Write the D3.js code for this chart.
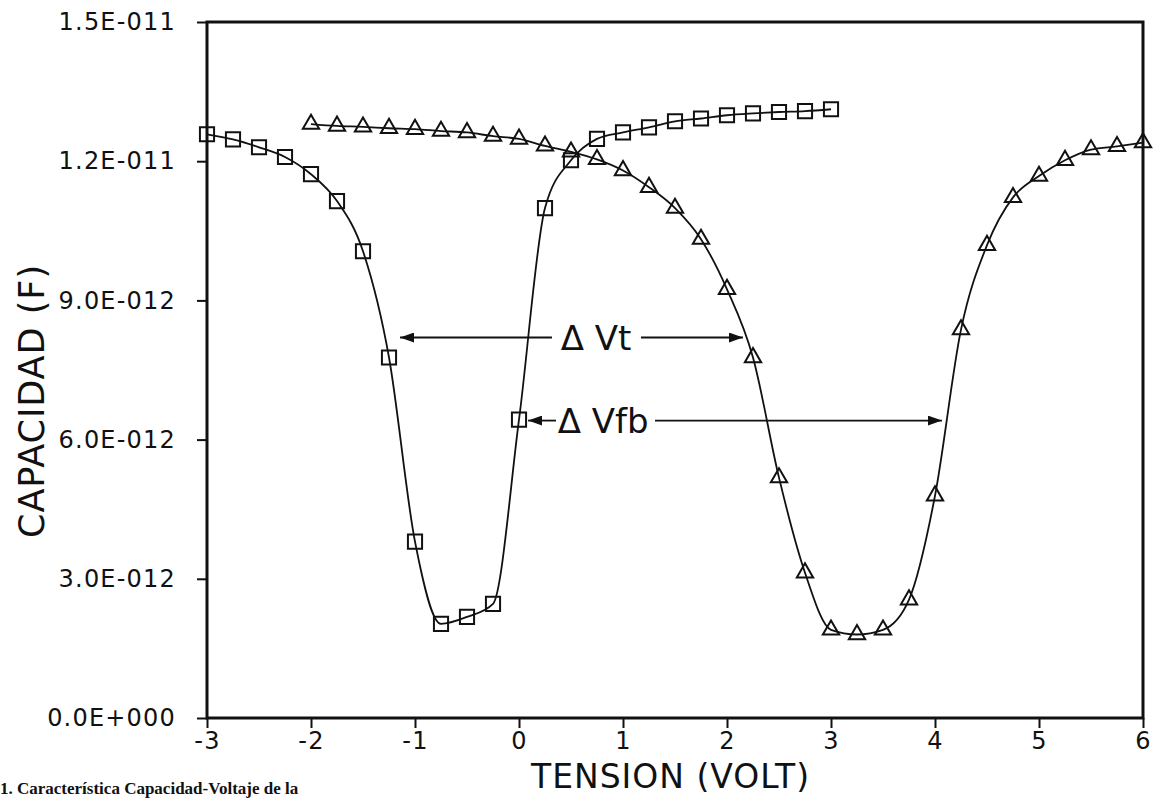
<!DOCTYPE html>
<html>
<head>
<meta charset="utf-8">
<script src="https://cdn.jsdelivr.net/npm/d3@7"></script>
<style>
  body { margin: 0; background: #fff; }
  svg { display: block; }
  .tick-label { font-family: "DejaVu Sans", sans-serif; font-size: 24px; letter-spacing: 1.2px; fill: #111; }
  .axis-title { font-family: "DejaVu Sans", sans-serif; fill: #111; }
  .note { font-family: "DejaVu Sans", sans-serif; font-size: 34px; fill: #111; }
  .caption { font-family: "Liberation Serif", serif; font-weight: bold; font-size: 17px; fill: #111; }
</style>
</head>
<body>
<div id="chart-container"><svg></svg></div>
<script>
// capacitance in units of 1E-12 F
const squareVolts = [-3, -2.75, -2.5, -2.25, -2, -1.75, -1.5, -1.25, -1, -0.75, -0.5, -0.25,
  0, 0.25, 0.5, 0.75, 1, 1.25, 1.5, 1.75, 2, 2.25, 2.5, 2.75, 3];
const squareCap = [12.58, 12.47, 12.30, 12.09, 11.72, 11.14, 10.06, 7.77, 3.80, 2.03, 2.18, 2.46,
  6.43, 10.99, 12.02, 12.48, 12.62, 12.73, 12.86, 12.92, 12.99, 13.03, 13.06, 13.08, 13.12];

const triangleVolts = [-2, -1.75, -1.5, -1.25, -1, -0.75, -0.5, -0.25, 0, 0.25, 0.5, 0.75,
  1, 1.25, 1.5, 1.75, 2, 2.25, 2.5, 2.75, 3, 3.25, 3.5, 3.75, 4, 4.25, 4.5, 4.75, 5, 5.25, 5.5, 5.75, 6];
const triangleCap = [12.80, 12.76, 12.74, 12.71, 12.69, 12.65, 12.62, 12.54, 12.48, 12.33, 12.20, 12.04,
  11.80, 11.44, 10.99, 10.32, 9.24, 7.77, 5.18, 3.13, 1.90, 1.80, 1.90, 2.55, 4.79, 8.37, 10.19, 11.22, 11.68, 12.02, 12.25, 12.32, 12.40];

const xTicks = [-3, -2, -1, 0, 1, 2, 3, 4, 5, 6];
const xTickLabels = ["-3", "-2", "-1", "0", "1", "2", "3", "4", "5", "6"];
const yTicks = [0, 3, 6, 9, 12, 15];
const yTickLabels = ["0.0E+000", "3.0E-012", "6.0E-012", "9.0E-012", "1.2E-011", "1.5E-011"];

// arrows: label, label x, y, [from, to] pairs (volts)
const notes = [
  {text: "\u0394 Vt", x: 0.74, y: 8.2, arrows: [[0.317, -1.144], [1.173, 2.154]]},
  {text: "\u0394 Vfb", x: 0.81, y: 6.41, arrows: [[0.356, 0.087], [1.308, 4.067]]}
];

const chartSize = {width: 1153, height: 799};
const plot = {left: 207, right: 1143, top: 22, bottom: 718};

const main = () => {
  const svg = d3.select("#chart-container svg")
    .attr("width", chartSize.width)
    .attr("height", chartSize.height);

  const x = d3.scaleLinear().domain([-3, 6]).range([plot.left, plot.right]);
  const y = d3.scaleLinear().domain([0, 15]).range([plot.bottom, plot.top]);

  // frame
  svg.append("rect")
    .attr("x", plot.left).attr("y", plot.top)
    .attr("width", plot.right - plot.left).attr("height", plot.bottom - plot.top)
    .attr("fill", "none").attr("stroke", "#111").attr("stroke-width", 3);

  const xAxis = d3.axisBottom(x)
    .tickValues(xTicks)
    .tickSize(10)
    .tickFormat((d, i) => xTickLabels[i]);
  const gx = svg.append("g")
    .attr("transform", `translate(0,${plot.bottom})`)
    .call(xAxis);
  gx.select(".domain").remove();
  gx.selectAll("line").attr("stroke", "#111").attr("stroke-width", 2);
  gx.selectAll("text").attr("class", "tick-label").attr("dy", "0.95em").attr("y", 8);

  const yAxis = d3.axisLeft(y)
    .tickValues(yTicks)
    .tickSize(10)
    .tickPadding(21)
    .tickFormat((d, i) => yTickLabels[i]);
  const gy = svg.append("g")
    .attr("transform", `translate(${plot.left},0)`)
    .call(yAxis);
  gy.select(".domain").remove();
  gy.selectAll("line").attr("stroke", "#111").attr("stroke-width", 2);
  gy.selectAll("text").attr("class", "tick-label");

  svg.append("text")
    .attr("class", "axis-title")
    .attr("font-size", 35)
    .attr("transform", `translate(44,401) rotate(-90)`)
    .attr("text-anchor", "middle")
    .attr("letter-spacing", 1)
    .text("CAPACIDAD  (F)");

  svg.append("text")
    .attr("class", "axis-title")
    .attr("font-size", 33)
    .attr("x", 670).attr("y", 788)
    .attr("text-anchor", "middle")
    .attr("textLength", 278)
    .text("TENSION  (VOLT)");

  const line = d3.line()
    .x(d => x(d[0]))
    .y(d => y(d[1]))
    .curve(d3.curveMonotoneX);

  const squares = squareVolts.map((v, i) => [v, squareCap[i]]);
  const triangles = triangleVolts.map((v, i) => [v, triangleCap[i]]);

  svg.append("path").attr("d", line(squares))
    .attr("fill", "none").attr("stroke", "#111").attr("stroke-width", 1.8);
  svg.append("path").attr("d", line(triangles))
    .attr("fill", "none").attr("stroke", "#111").attr("stroke-width", 1.8);

  svg.selectAll(".sq").data(squares).join("path")
    .attr("class", "sq")
    .attr("transform", d => `translate(${x(d[0])},${y(d[1])})`)
    .attr("d", d3.symbol(d3.symbolSquare, 200))
    .attr("fill", "none").attr("stroke", "#111").attr("stroke-width", 2);

  svg.selectAll(".tri").data(triangles).join("path")
    .attr("class", "tri")
    .attr("transform", d => `translate(${x(d[0])},${y(d[1])})`)
    .attr("d", d3.symbol(d3.symbolTriangle, 115))
    .attr("fill", "none").attr("stroke", "#111").attr("stroke-width", 2);

  // annotations
  svg.append("defs").append("marker")
    .attr("id", "head")
    .attr("viewBox", "0 0 14 10")
    .attr("refX", 14).attr("refY", 5)
    .attr("markerWidth", 14).attr("markerHeight", 10)
    .attr("markerUnits", "userSpaceOnUse")
    .attr("orient", "auto")
    .append("path").attr("d", "M0,0L14,5L0,10Z").attr("fill", "#111");

  notes.forEach(n => {
    svg.append("text")
      .attr("class", "note")
      .attr("x", x(n.x)).attr("y", y(n.y))
      .attr("dy", "0.36em")
      .attr("text-anchor", "middle")
      .text(n.text);
    n.arrows.forEach(a => {
      svg.append("line")
        .attr("x1", x(a[0])).attr("x2", x(a[1]))
        .attr("y1", y(n.y)).attr("y2", y(n.y))
        .attr("stroke", "#111").attr("stroke-width", 1.8)
        .attr("marker-end", "url(#head)");
    });
  });

  svg.append("text")
    .attr("class", "caption")
    .attr("x", 0).attr("y", 794)
    .text("1. Característica Capacidad-Voltaje de la");
};

window.onload = main;
</script>
</body>
</html>
